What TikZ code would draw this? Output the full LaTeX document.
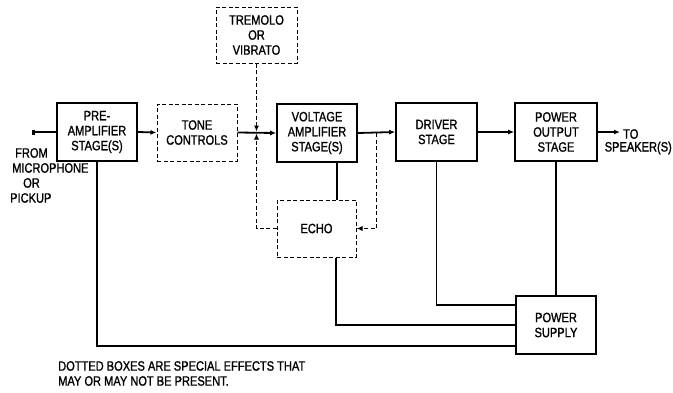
\documentclass[tikz,border=0pt]{standalone}
\usepackage{fontspec}
\setmainfont{Liberation Sans}[FakeStretch=0.82,FakeBold=1.2]
\usetikzlibrary{arrows.meta,calc}
\begin{document}
\begin{tikzpicture}[x=1pt,y=-1pt,
  txt/.style={font=\fontsize{13.5}{15}\selectfont, inner sep=0pt, align=center},
  blk/.style={txt, draw, line width=1.6pt, minimum width=80pt, minimum height=58pt},
  dblk/.style={txt, draw, line width=1pt, dash pattern=on 4pt off 2.5pt, minimum width=80pt, minimum height=57pt},
  conn/.style={line width=1.8pt},
  arr/.style={conn, -{Latex[length=6pt,width=5pt]}},
  dconn/.style={line width=1pt, dash pattern=on 4pt off 2.5pt},
  darr/.style={dconn, -{Latex[length=6pt,width=5pt]}}
]
\useasboundingbox (0,0) rectangle (673,392);
% blocks
\node[blk] (pre) at (97,132) {PRE-\\AMPLIFIER\\STAGE(S)};
\node[dblk] (tone) at (197,132.5) {TONE\\CONTROLS};
\node[dblk, minimum width=81pt, minimum height=56pt] (trem) at (256.5,35) {TREMOLO\\OR\\VIBRATO};
\node[blk] (volt) at (317,133) {VOLTAGE\\AMPLIFIER\\STAGE(S)};
\node[dblk, minimum width=79pt] (echo) at (316.5,228.5) {ECHO};
\node[blk, minimum width=81pt] (drv) at (436.5,132) {DRIVER\\STAGE};
\node[blk, minimum width=82pt] (pout) at (556,132) {POWER\\OUTPUT\\STAGE};
\node[blk] (ps) at (556,325) {POWER\\SUPPLY};
% free ends and junctions
\coordinate (in) at (32,132);
\coordinate (spk) at (620,132);
\coordinate (j) at (trem.south |- tone.east);
\coordinate (k) at ([xshift=19pt]volt.east);
% signal path
\draw[conn, {Bar[width=5pt,line width=2.5pt]}-] (in) -- (pre.west);
\draw[arr] (pre.east) -- (tone.west);
\draw[arr] (tone.east) -- (volt.west);
\draw[arr] (volt.east) -- (drv.west);
\draw[arr] (drv.east) -- (pout.west);
\draw[arr] (pout.east) -- (spk);
% special effects
\draw[darr, shorten >=1pt] (trem.south) -- (j);
\draw[darr, shorten >=1pt] (echo.west) -| (j);
\draw[darr] (k) |- (echo.east);
\draw[conn] ([xshift=20pt]volt.south) -- ([xshift=20pt]volt.south |- echo.north);
% power supply
\draw[conn] (pre.south) |- ([yshift=9pt]ps.south west);
\draw[conn] ([xshift=19.5pt]echo.south) |- ([yshift=-30pt]ps.north west);
\draw[conn] (drv.south) |- ([yshift=-10pt]ps.north west);
\draw[conn] (pout.south) -- (ps.north);
% labels
\node[txt, anchor=north west, align=left] (src) at (10,148) {\hspace*{5pt}FROM\\\hspace*{2pt}MICROPHONE\\\hspace*{13pt}OR\\PICKUP};
\node[txt, anchor=west] (to) at (623,134) {TO};
\node[txt, anchor=east] (spkl) at (672,148) {SPEAKER(S)};
\node[txt, anchor=north west, align=left] (note) at (58,361) {DOTTED BOXES ARE SPECIAL EFFECTS THAT\\MAY OR MAY NOT BE PRESENT.};
\end{tikzpicture}
\end{document}
